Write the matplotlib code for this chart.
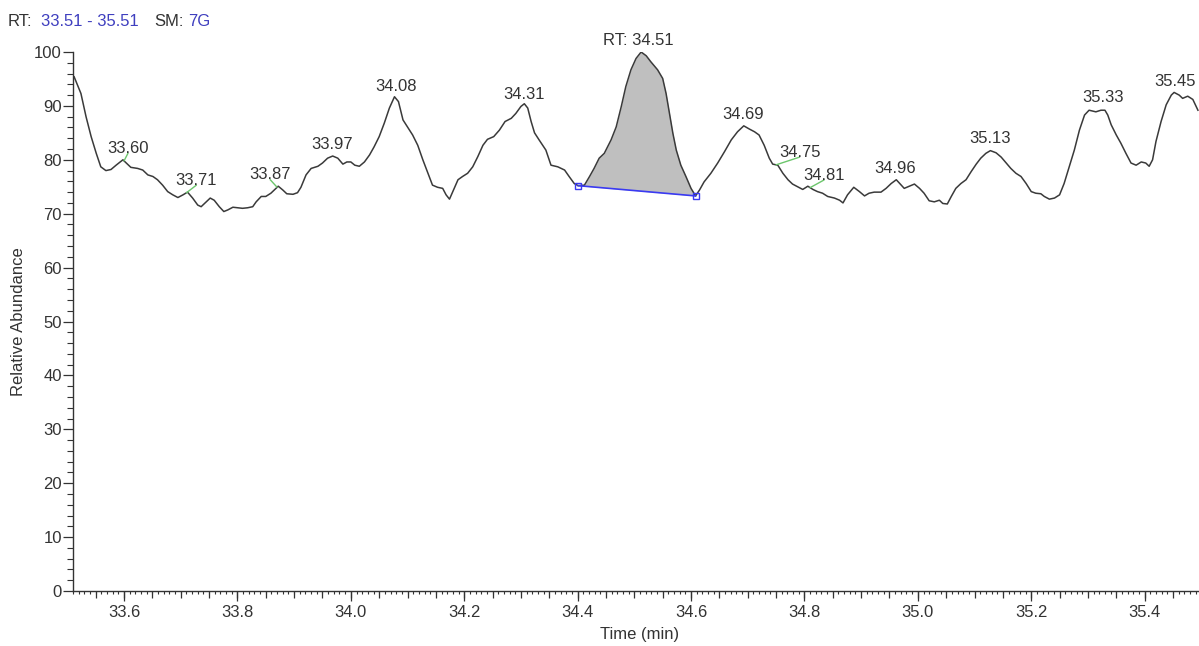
import numpy as np
import matplotlib.pyplot as plt
from matplotlib.ticker import MultipleLocator, FormatStrFormatter

plt.rcParams['font.family'] = ['Liberation Sans', 'DejaVu Sans']
plt.rcParams['font.size'] = 12

# chromatogram trace (time in min, relative abundance in %)
time = [33.512, 33.524, 33.533, 33.542, 33.551, 33.559, 33.568, 33.577, 33.586, 33.598,
        33.604, 33.612, 33.624, 33.633, 33.642, 33.651, 33.659, 33.668, 33.677, 33.686,
        33.695, 33.704, 33.712, 33.721, 33.730, 33.736, 33.745, 33.752, 33.759, 33.768,
        33.776, 33.783, 33.792, 33.801, 33.809, 33.818, 33.827, 33.833, 33.842, 33.850,
        33.859, 33.868, 33.872, 33.880, 33.887, 33.898, 33.906, 33.912, 33.921, 33.930,
        33.942, 33.950, 33.959, 33.968, 33.977, 33.986, 33.993, 34.000, 34.007, 34.015,
        34.024, 34.033, 34.041, 34.050, 34.059, 34.068, 34.077, 34.084, 34.092, 34.100,
        34.109, 34.118, 34.127, 34.136, 34.144, 34.153, 34.162, 34.168, 34.174, 34.181,
        34.189, 34.197, 34.206, 34.215, 34.224, 34.233, 34.241, 34.252, 34.262, 34.272,
        34.283, 34.291, 34.300, 34.306, 34.312, 34.318, 34.324, 34.332, 34.344, 34.353,
        34.365, 34.377, 34.385, 34.394, 34.401, 34.412, 34.421, 34.429, 34.438, 34.447,
        34.459, 34.468, 34.477, 34.485, 34.494, 34.503, 34.512, 34.521, 34.529, 34.541,
        34.550, 34.556, 34.562, 34.568, 34.574, 34.582, 34.591, 34.600, 34.608, 34.615,
        34.623, 34.635, 34.647, 34.659, 34.671, 34.682, 34.693, 34.703, 34.712, 34.720,
        34.729, 34.738, 34.744, 34.753, 34.762, 34.771, 34.779, 34.788, 34.797, 34.806,
        34.815, 34.823, 34.832, 34.841, 34.853, 34.862, 34.868, 34.876, 34.887, 34.897,
        34.906, 34.914, 34.923, 34.935, 34.944, 34.953, 34.962, 34.969, 34.976, 34.985,
        34.994, 35.003, 35.011, 35.020, 35.029, 35.038, 35.044, 35.052, 35.059, 35.067,
        35.076, 35.085, 35.094, 35.103, 35.111, 35.120, 35.128, 35.138, 35.147, 35.156,
        35.164, 35.173, 35.182, 35.191, 35.200, 35.208, 35.217, 35.223, 35.232, 35.241,
        35.250, 35.258, 35.267, 35.276, 35.285, 35.294, 35.302, 35.314, 35.323, 35.330,
        35.335, 35.341, 35.350, 35.358, 35.367, 35.376, 35.385, 35.394, 35.402, 35.408,
        35.414, 35.420, 35.429, 35.438, 35.447, 35.452, 35.461, 35.467, 35.476, 35.485,
        35.494]

abundance = [95.4, 92.3, 88.0, 84.3, 81.2, 78.7, 78.0, 78.2, 79.0, 80.0,
             79.4, 78.6, 78.4, 78.1, 77.2, 76.9, 76.3, 75.3, 74.1, 73.5,
             73.0, 73.5, 74.0, 72.9, 71.6, 71.3, 72.2, 72.9, 72.5, 71.3,
             70.4, 70.7, 71.2, 71.1, 71.0, 71.1, 71.3, 72.2, 73.2, 73.2,
             73.8, 74.7, 75.1, 74.4, 73.7, 73.6, 73.9, 74.9, 77.2, 78.4,
             78.8, 79.4, 80.3, 80.7, 80.3, 79.2, 79.6, 79.6, 79.0, 78.8,
             79.6, 80.9, 82.4, 84.3, 86.8, 89.6, 91.7, 90.8, 87.4, 86.1,
             84.6, 82.7, 80.0, 77.5, 75.3, 74.9, 74.7, 73.5, 72.7, 74.4,
             76.3, 76.9, 77.5, 78.7, 80.6, 82.7, 83.8, 84.3, 85.5, 87.1,
             87.7, 88.6, 89.9, 90.4, 89.6, 87.1, 85.0, 83.7, 81.8, 79.0,
             78.7, 78.1, 76.9, 75.6, 75.2, 75.3, 76.9, 78.4, 80.3, 81.2,
             83.7, 86.1, 89.9, 93.6, 96.7, 98.8, 100.0, 99.3, 98.2, 96.7,
             95.1, 92.3, 88.6, 84.9, 81.8, 79.0, 76.9, 74.7, 73.3, 74.4,
             75.9, 77.5, 79.4, 81.5, 83.7, 85.2, 86.3, 85.7, 85.2, 84.6,
             82.7, 80.3, 79.2, 79.0, 77.5, 76.3, 75.5, 75.0, 74.5, 75.1,
             74.5, 74.1, 73.8, 73.2, 72.9, 72.5, 72.0, 73.5, 74.9, 74.1,
             73.3, 73.8, 74.0, 74.0, 74.7, 75.6, 76.3, 75.5, 74.7, 75.1,
             75.5, 74.7, 73.8, 72.4, 72.2, 72.5, 71.9, 71.8, 73.2, 74.7,
             75.6, 76.3, 77.8, 79.2, 80.3, 81.2, 81.7, 81.3, 80.5, 79.4,
             78.4, 77.5, 76.9, 75.6, 74.1, 73.8, 73.7, 73.2, 72.7, 72.9,
             73.5, 75.6, 78.7, 81.8, 85.5, 88.3, 89.2, 88.9, 89.2, 89.2,
             88.3, 86.5, 84.6, 83.1, 81.2, 79.4, 79.0, 79.6, 79.4, 78.8,
             80.0, 83.4, 87.1, 90.2, 92.0, 92.5, 92.0, 91.4, 91.8, 91.2,
             89.2]

# integrated peak: baseline start / end
peak_t = [34.401, 34.608]
peak_v = [75.2, 73.3]

# labelled retention times
rts = [33.60, 33.71, 33.87, 33.97, 34.08, 34.31, 34.51,
       34.69, 34.75, 34.81, 34.96, 35.13, 35.33, 35.45]
label_dx = [4, 10, -7, -1.5, 0, -2.5, -2, 1.5, 23.5, 14, 0, -1.5, -2, 2]
leader = [True, True, True, False, False, False, False,
          False, True, True, False, False, False, False]

t = np.array(time)
v = np.array(abundance)

fig = plt.figure(figsize=(11.99, 6.46), dpi=100)
ax = fig.add_axes([73 / 1199, 55 / 646, 1134 / 1199, 539 / 646])

dark = '#333333'
blue = '#3a3af2'

# shaded peak area between trace and baseline
m = (t >= peak_t[0]) & (t <= peak_t[1])
base = np.interp(t[m], peak_t, peak_v)
ax.fill_between(t[m], base, v[m], color='#bfbfbf', lw=0, zorder=1)

ax.plot(t, v, color='#3a3a3a', lw=1.1, zorder=2)
ax.plot(peak_t, peak_v, color=blue, lw=1.2, marker='s', ms=5,
        mfc='none', mec=blue, mew=1.0, zorder=3)

for rt, dx, lead in zip(rts, label_dx, leader):
    y = np.interp(rt, t, v)
    txt = 'RT: %.2f' % rt if rt == 34.51 else '%.2f' % rt
    kw = {}
    if lead:
        # green leader from the trace up to the foot of the label
        kw['arrowprops'] = dict(arrowstyle='-', color='#6cc66c', lw=1.0,
                                shrinkA=0, shrinkB=0, patchA=None,
                                relpos=(0.5, 0.18))
    ax.annotate(txt, xy=(rt, y), xytext=(dx, 12.5), textcoords='offset pixels',
                ha='center', va='center', color=dark, fontsize=12,
                annotation_clip=False, **kw)

ax.set_xlim(33.51, 35.51)
ax.set_ylim(0, 100)

for s in ['top', 'right']:
    ax.spines[s].set_visible(False)
for s in ['left', 'bottom']:
    ax.spines[s].set_color(dark)
    ax.spines[s].set_linewidth(1.0)

ax.xaxis.set_major_locator(MultipleLocator(0.2))
ax.xaxis.set_minor_locator(MultipleLocator(0.01))
ax.xaxis.set_major_formatter(FormatStrFormatter('%.1f'))
ax.yaxis.set_major_locator(MultipleLocator(10))
ax.yaxis.set_minor_locator(MultipleLocator(2))

ax.tick_params(axis='x', which='major', length=7.2, width=0.9, pad=3,
               color=dark, labelcolor=dark, labelsize=12)
ax.tick_params(axis='x', which='minor', length=2.5, width=0.8, color=dark)
ax.tick_params(axis='y', which='major', length=7, width=0.9, pad=1,
               color=dark, labelcolor=dark, labelsize=12)
ax.tick_params(axis='y', which='minor', length=4.5, width=0.8, color=dark)

# medium ticks every 0.05 min
sec = ax.secondary_xaxis('bottom')
sec.xaxis.set_major_locator(MultipleLocator(0.05))
sec.tick_params(axis='x', length=5, width=0.9, color=dark, labelbottom=False)
sec.spines['bottom'].set_visible(False)

ax.set_xlabel('Time (min)', color=dark, fontsize=12, labelpad=5)
ax.set_ylabel('Relative Abundance', color=dark, fontsize=12, labelpad=6)

# header line
hy = 1 - 22 / 646
fig.text(8 / 1199, hy, 'RT:', color=dark, va='center', fontsize=12)
fig.text(41 / 1199, hy, '33.51 - 35.51', color='#3f3fbf', va='center', fontsize=12)
fig.text(154 / 1199, hy, 'SM:', color=dark, va='center', fontsize=12)
fig.text(188 / 1199, hy, '7G', color='#3f3fbf', va='center', fontsize=12)

fig.savefig('out.png', dpi=100)
